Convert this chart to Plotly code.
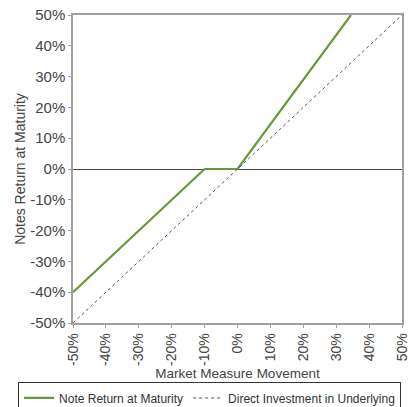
import plotly.graph_objects as go

# Market measure movement (%) and the corresponding payoffs (%)
market_move = [-50, -10, 0, 34.5]
note_return = [-40, 0, 0, 50]
direct_move = [-50, 50]
direct_return = [-50, 50]
tick_vals = [-50, -40, -30, -20, -10, 0, 10, 20, 30, 40, 50]
tick_text = [f"{v}%" for v in tick_vals]

font_family = "Liberation Sans, Arial, sans-serif"
text_color = "#444444"
axis_color = "#a0a0a0"

fig = go.Figure()
fig.add_trace(go.Scatter(
    x=market_move, y=note_return, mode="lines",
    name="Note Return at Maturity",
    line=dict(color="#67983a", width=2.2),
))
fig.add_trace(go.Scatter(
    x=direct_move, y=direct_return, mode="lines",
    name="Direct Investment in Underlying",
    line=dict(color="#555555", width=1, dash="dot"),
))

axis_common = dict(
    range=[-50, 50], tickvals=tick_vals, ticktext=tick_text,
    showgrid=False, showline=True, linecolor=axis_color, linewidth=1.5,
    mirror=True, ticks="outside", ticklen=3, tickcolor=axis_color,
    automargin=False, ticklabeloverflow="allow",
)

fig.update_xaxes(
    **axis_common, zeroline=False, tickangle=-90,
    tickfont=dict(size=14, color=text_color, family=font_family),
    title=dict(text="Market Measure Movement", standoff=0,
               font=dict(size=13.5, color=text_color, family=font_family)),
)
fig.update_yaxes(
    **axis_common, zeroline=True, zerolinecolor="#444444", zerolinewidth=1,
    tickfont=dict(size=15, color=text_color, family=font_family),
    title=dict(text="Notes Return at Maturity", standoff=1,
               font=dict(size=14, color=text_color, family=font_family)),
)

fig.update_layout(
    width=409, height=407,
    margin=dict(l=73, r=7, t=15, b=84, autoexpand=False),
    paper_bgcolor="white", plot_bgcolor="white",
    font=dict(family=font_family, color=text_color),
    showlegend=True,
    legend=dict(
        orientation="h", x=-0.167, xanchor="left", y=-0.193, yanchor="top",
        bordercolor="#333333", borderwidth=1,
        font=dict(size=12, color="#333333", family=font_family),
        itemwidth=30,
    ),
)

fig.write_html("out.html")
